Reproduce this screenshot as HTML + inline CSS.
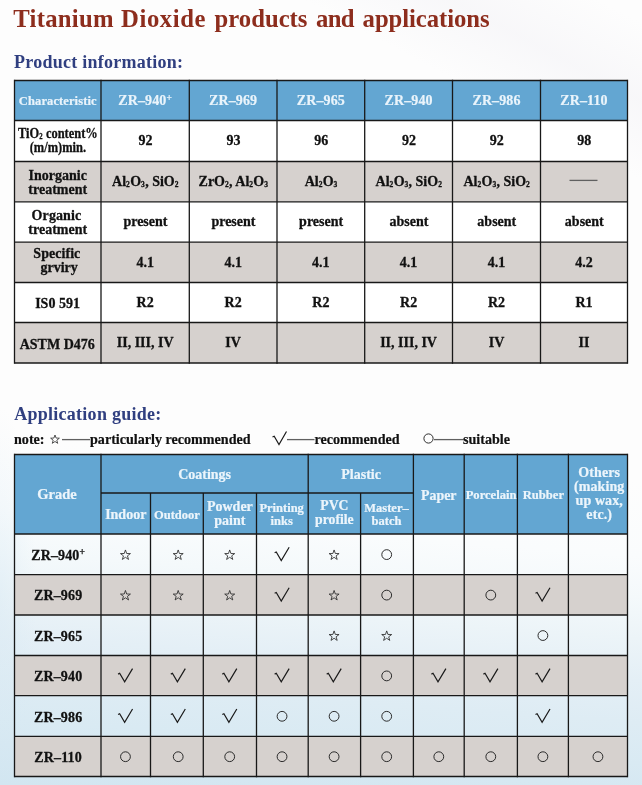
<!DOCTYPE html>
<html><head><meta charset="utf-8"><title>Titanium Dioxide products and applications</title>
<style>
html,body{margin:0;padding:0;}
body{width:642px;height:785px;position:relative;overflow:hidden;font-family:"Liberation Serif",serif;font-weight:bold;color:#111;
background:
 linear-gradient(28deg, rgba(240,239,244,0) 84%, rgba(240,239,244,0.4) 91%, rgba(240,239,244,0) 98%),
 radial-gradient(ellipse 36px 190px at 0% 76%, rgba(214,232,243,0.4) 0%, rgba(214,232,243,0) 100%),
 linear-gradient(184deg,#fdfdfd 0%,#fdfdfd 58%,#fafcfd 67%,#f4f9fb 72%,#ecf4f8 77%,#e4eff6 82%,#deecf4 87%,#d9eaf3 92%,#d6e8f2 95%,#d2e6f1 100%);}
svg{position:absolute;left:0;top:0;}
.t{position:absolute;white-space:nowrap;line-height:1;}
#txt{position:absolute;left:0;top:0;width:642px;height:785px;will-change:transform;}
.tt{top:7.4px;font-size:24.7px;color:#8d2d1d;}
#pi{left:14px;top:52.5px;font-size:18px;color:#303f80;letter-spacing:0.25px;}
#ag{left:14.2px;top:405px;font-size:18px;color:#303f80;letter-spacing:0.27px;}
.n{-webkit-text-stroke:0.2px currentColor;font-size:14.1px;color:#111;top:432.1px;}
.c{-webkit-text-stroke:0.28px currentColor;position:absolute;display:flex;align-items:center;justify-content:center;text-align:center;font-size:14px;line-height:14px;white-space:nowrap;}
.c sub{font-size:7.5px;vertical-align:baseline;position:relative;top:0.8px;line-height:0;letter-spacing:0.3px;}
.c sup{font-size:9.5px;vertical-align:baseline;position:relative;top:-4.5px;line-height:0;}
.h{color:#eaf4fb;font-size:14px;letter-spacing:0.1px;-webkit-text-stroke:0.2px currentColor;}
.l{font-size:14px;line-height:13.8px;}
.h2{-webkit-text-stroke:0.22px currentColor;color:#ecf5fb;font-size:14px;line-height:13.8px;}
.g{font-size:14px;letter-spacing:0.15px;}
</style></head><body>
<svg width="642" height="785" viewBox="0 0 642 785">
<rect x="14.5" y="80.5" width="613.00" height="40.00" fill="#63a6d2"/>
<rect x="14.5" y="120.5" width="613.00" height="41.00" fill="#ffffff"/>
<rect x="14.5" y="161.5" width="613.00" height="40.30" fill="#d6d1ce"/>
<rect x="14.5" y="201.8" width="613.00" height="40.40" fill="#ffffff"/>
<rect x="14.5" y="242.2" width="613.00" height="40.30" fill="#d6d1ce"/>
<rect x="14.5" y="282.5" width="613.00" height="40.00" fill="#ffffff"/>
<rect x="14.5" y="322.5" width="613.00" height="40.50" fill="#d6d1ce"/>
<line x1="14.5" y1="79.85" x2="14.5" y2="363.65" stroke="#181818" stroke-width="1.3"/>
<line x1="101" y1="79.85" x2="101" y2="363.65" stroke="#181818" stroke-width="1.3"/>
<line x1="189.3" y1="79.85" x2="189.3" y2="363.65" stroke="#181818" stroke-width="1.3"/>
<line x1="277" y1="79.85" x2="277" y2="363.65" stroke="#181818" stroke-width="1.3"/>
<line x1="364.7" y1="79.85" x2="364.7" y2="363.65" stroke="#181818" stroke-width="1.3"/>
<line x1="452.5" y1="79.85" x2="452.5" y2="363.65" stroke="#181818" stroke-width="1.3"/>
<line x1="540.5" y1="79.85" x2="540.5" y2="363.65" stroke="#181818" stroke-width="1.3"/>
<line x1="627.5" y1="79.85" x2="627.5" y2="363.65" stroke="#181818" stroke-width="1.3"/>
<line x1="14.5" y1="80.5" x2="627.5" y2="80.5" stroke="#181818" stroke-width="1.3"/>
<line x1="14.5" y1="120.5" x2="627.5" y2="120.5" stroke="#181818" stroke-width="1.3"/>
<line x1="14.5" y1="161.5" x2="627.5" y2="161.5" stroke="#181818" stroke-width="1.3"/>
<line x1="14.5" y1="201.8" x2="627.5" y2="201.8" stroke="#181818" stroke-width="1.3"/>
<line x1="14.5" y1="242.2" x2="627.5" y2="242.2" stroke="#181818" stroke-width="1.3"/>
<line x1="14.5" y1="282.5" x2="627.5" y2="282.5" stroke="#181818" stroke-width="1.3"/>
<line x1="14.5" y1="322.5" x2="627.5" y2="322.5" stroke="#181818" stroke-width="1.3"/>
<line x1="14.5" y1="363" x2="627.5" y2="363" stroke="#181818" stroke-width="1.3"/>
<rect x="14.5" y="454.5" width="613.00" height="79.50" fill="#63a6d2"/>
<rect x="14.5" y="574.6" width="613.00" height="40.40" fill="#d6d1ce"/>
<rect x="14.5" y="655.5" width="613.00" height="40.20" fill="#d6d1ce"/>
<rect x="14.5" y="736.3" width="613.00" height="40.20" fill="#d6d1ce"/>
<line x1="14.5" y1="453.85" x2="14.5" y2="777.15" stroke="#181818" stroke-width="1.3"/>
<line x1="101" y1="453.85" x2="101" y2="777.15" stroke="#181818" stroke-width="1.3"/>
<line x1="150.5" y1="493" x2="150.5" y2="777.15" stroke="#181818" stroke-width="1.3"/>
<line x1="203.3" y1="493" x2="203.3" y2="777.15" stroke="#181818" stroke-width="1.3"/>
<line x1="256.5" y1="493" x2="256.5" y2="777.15" stroke="#181818" stroke-width="1.3"/>
<line x1="308.2" y1="453.85" x2="308.2" y2="777.15" stroke="#181818" stroke-width="1.3"/>
<line x1="360.6" y1="493" x2="360.6" y2="777.15" stroke="#181818" stroke-width="1.3"/>
<line x1="413.4" y1="453.85" x2="413.4" y2="777.15" stroke="#181818" stroke-width="1.3"/>
<line x1="464.2" y1="453.85" x2="464.2" y2="777.15" stroke="#181818" stroke-width="1.3"/>
<line x1="517.4" y1="453.85" x2="517.4" y2="777.15" stroke="#181818" stroke-width="1.3"/>
<line x1="568.4" y1="453.85" x2="568.4" y2="777.15" stroke="#181818" stroke-width="1.3"/>
<line x1="627.5" y1="453.85" x2="627.5" y2="777.15" stroke="#181818" stroke-width="1.3"/>
<line x1="14.5" y1="454.5" x2="627.5" y2="454.5" stroke="#181818" stroke-width="1.3"/>
<line x1="14.5" y1="534" x2="627.5" y2="534" stroke="#181818" stroke-width="1.3"/>
<line x1="14.5" y1="574.6" x2="627.5" y2="574.6" stroke="#181818" stroke-width="1.3"/>
<line x1="14.5" y1="615" x2="627.5" y2="615" stroke="#181818" stroke-width="1.3"/>
<line x1="14.5" y1="655.5" x2="627.5" y2="655.5" stroke="#181818" stroke-width="1.3"/>
<line x1="14.5" y1="695.7" x2="627.5" y2="695.7" stroke="#181818" stroke-width="1.3"/>
<line x1="14.5" y1="736.3" x2="627.5" y2="736.3" stroke="#181818" stroke-width="1.3"/>
<line x1="14.5" y1="776.5" x2="627.5" y2="776.5" stroke="#181818" stroke-width="1.3"/>
<line x1="101" y1="493" x2="413.4" y2="493" stroke="#181818" stroke-width="1.3"/>
<polygon points="125.45,549.95 126.68,553.50 130.44,553.58 127.45,555.85 128.54,559.45 125.45,557.30 122.36,559.45 123.45,555.85 120.46,553.58 124.22,553.50" fill="none" stroke="#2a2a2a" stroke-width="0.85" stroke-linejoin="miter"/>
<polygon points="178.20,549.95 179.43,553.50 183.19,553.58 180.20,555.85 181.29,559.45 178.20,557.30 175.11,559.45 176.20,555.85 173.21,553.58 176.97,553.50" fill="none" stroke="#2a2a2a" stroke-width="0.85" stroke-linejoin="miter"/>
<polygon points="229.70,549.95 230.93,553.50 234.69,553.58 231.70,555.85 232.79,559.45 229.70,557.30 226.61,559.45 227.70,555.85 224.71,553.58 228.47,553.50" fill="none" stroke="#2a2a2a" stroke-width="0.85" stroke-linejoin="miter"/>
<polyline points="274.65,552.80 276.25,552.00 281.25,560.60 289.15,547.30" fill="none" stroke="#1a1a1a" stroke-width="1.2" stroke-linejoin="miter"/>
<polygon points="334.10,549.95 335.33,553.50 339.09,553.58 336.10,555.85 337.19,559.45 334.10,557.30 331.01,559.45 332.10,555.85 329.11,553.58 332.87,553.50" fill="none" stroke="#2a2a2a" stroke-width="0.85" stroke-linejoin="miter"/>
<circle cx="386.70" cy="554.60" r="4.9" fill="none" stroke="#222" stroke-width="0.95"/>
<polygon points="125.45,590.45 126.68,594.00 130.44,594.08 127.45,596.35 128.54,599.95 125.45,597.80 122.36,599.95 123.45,596.35 120.46,594.08 124.22,594.00" fill="none" stroke="#2a2a2a" stroke-width="0.85" stroke-linejoin="miter"/>
<polygon points="178.20,590.45 179.43,594.00 183.19,594.08 180.20,596.35 181.29,599.95 178.20,597.80 175.11,599.95 176.20,596.35 173.21,594.08 176.97,594.00" fill="none" stroke="#2a2a2a" stroke-width="0.85" stroke-linejoin="miter"/>
<polygon points="229.70,590.45 230.93,594.00 234.69,594.08 231.70,596.35 232.79,599.95 229.70,597.80 226.61,599.95 227.70,596.35 224.71,594.08 228.47,594.00" fill="none" stroke="#2a2a2a" stroke-width="0.85" stroke-linejoin="miter"/>
<polyline points="274.65,593.30 276.25,592.50 281.25,601.10 289.15,587.80" fill="none" stroke="#1a1a1a" stroke-width="1.2" stroke-linejoin="miter"/>
<polygon points="334.10,590.45 335.33,594.00 339.09,594.08 336.10,596.35 337.19,599.95 334.10,597.80 331.01,599.95 332.10,596.35 329.11,594.08 332.87,594.00" fill="none" stroke="#2a2a2a" stroke-width="0.85" stroke-linejoin="miter"/>
<circle cx="386.70" cy="595.10" r="4.9" fill="none" stroke="#222" stroke-width="0.95"/>
<circle cx="490.80" cy="595.10" r="4.9" fill="none" stroke="#222" stroke-width="0.95"/>
<polyline points="535.50,593.30 537.10,592.50 542.10,601.10 550.00,587.80" fill="none" stroke="#1a1a1a" stroke-width="1.2" stroke-linejoin="miter"/>
<polygon points="334.10,630.90 335.33,634.45 339.09,634.53 336.10,636.80 337.19,640.40 334.10,638.25 331.01,640.40 332.10,636.80 329.11,634.53 332.87,634.45" fill="none" stroke="#2a2a2a" stroke-width="0.85" stroke-linejoin="miter"/>
<polygon points="386.70,630.90 387.93,634.45 391.69,634.53 388.70,636.80 389.79,640.40 386.70,638.25 383.61,640.40 384.70,636.80 381.71,634.53 385.47,634.45" fill="none" stroke="#2a2a2a" stroke-width="0.85" stroke-linejoin="miter"/>
<circle cx="542.90" cy="635.55" r="4.9" fill="none" stroke="#222" stroke-width="0.95"/>
<polyline points="118.05,674.10 119.65,673.30 124.65,681.90 132.55,668.60" fill="none" stroke="#1a1a1a" stroke-width="1.2" stroke-linejoin="miter"/>
<polyline points="170.80,674.10 172.40,673.30 177.40,681.90 185.30,668.60" fill="none" stroke="#1a1a1a" stroke-width="1.2" stroke-linejoin="miter"/>
<polyline points="222.30,674.10 223.90,673.30 228.90,681.90 236.80,668.60" fill="none" stroke="#1a1a1a" stroke-width="1.2" stroke-linejoin="miter"/>
<polyline points="274.65,674.10 276.25,673.30 281.25,681.90 289.15,668.60" fill="none" stroke="#1a1a1a" stroke-width="1.2" stroke-linejoin="miter"/>
<polyline points="326.70,674.10 328.30,673.30 333.30,681.90 341.20,668.60" fill="none" stroke="#1a1a1a" stroke-width="1.2" stroke-linejoin="miter"/>
<circle cx="386.70" cy="675.90" r="4.9" fill="none" stroke="#222" stroke-width="0.95"/>
<polyline points="431.40,674.10 433.00,673.30 438.00,681.90 445.90,668.60" fill="none" stroke="#1a1a1a" stroke-width="1.2" stroke-linejoin="miter"/>
<polyline points="483.40,674.10 485.00,673.30 490.00,681.90 497.90,668.60" fill="none" stroke="#1a1a1a" stroke-width="1.2" stroke-linejoin="miter"/>
<polyline points="535.50,674.10 537.10,673.30 542.10,681.90 550.00,668.60" fill="none" stroke="#1a1a1a" stroke-width="1.2" stroke-linejoin="miter"/>
<polyline points="118.05,714.50 119.65,713.70 124.65,722.30 132.55,709.00" fill="none" stroke="#1a1a1a" stroke-width="1.2" stroke-linejoin="miter"/>
<polyline points="170.80,714.50 172.40,713.70 177.40,722.30 185.30,709.00" fill="none" stroke="#1a1a1a" stroke-width="1.2" stroke-linejoin="miter"/>
<polyline points="222.30,714.50 223.90,713.70 228.90,722.30 236.80,709.00" fill="none" stroke="#1a1a1a" stroke-width="1.2" stroke-linejoin="miter"/>
<circle cx="282.05" cy="716.30" r="4.9" fill="none" stroke="#222" stroke-width="0.95"/>
<circle cx="334.10" cy="716.30" r="4.9" fill="none" stroke="#222" stroke-width="0.95"/>
<circle cx="386.70" cy="716.30" r="4.9" fill="none" stroke="#222" stroke-width="0.95"/>
<polyline points="535.50,714.50 537.10,713.70 542.10,722.30 550.00,709.00" fill="none" stroke="#1a1a1a" stroke-width="1.2" stroke-linejoin="miter"/>
<circle cx="125.45" cy="756.70" r="4.9" fill="none" stroke="#222" stroke-width="0.95"/>
<circle cx="178.20" cy="756.70" r="4.9" fill="none" stroke="#222" stroke-width="0.95"/>
<circle cx="229.70" cy="756.70" r="4.9" fill="none" stroke="#222" stroke-width="0.95"/>
<circle cx="282.05" cy="756.70" r="4.9" fill="none" stroke="#222" stroke-width="0.95"/>
<circle cx="334.10" cy="756.70" r="4.9" fill="none" stroke="#222" stroke-width="0.95"/>
<circle cx="386.70" cy="756.70" r="4.9" fill="none" stroke="#222" stroke-width="0.95"/>
<circle cx="438.80" cy="756.70" r="4.9" fill="none" stroke="#222" stroke-width="0.95"/>
<circle cx="490.80" cy="756.70" r="4.9" fill="none" stroke="#222" stroke-width="0.95"/>
<circle cx="542.90" cy="756.70" r="4.9" fill="none" stroke="#222" stroke-width="0.95"/>
<circle cx="597.95" cy="756.70" r="4.9" fill="none" stroke="#222" stroke-width="0.95"/>
<polygon points="55.00,435.00 56.12,438.06 59.37,438.18 56.81,440.19 57.70,443.32 55.00,441.50 52.30,443.32 53.19,440.19 50.63,438.18 53.88,438.06" fill="none" stroke="#2a2a2a" stroke-width="0.8" stroke-linejoin="miter"/>
<line x1="62" y1="439.6" x2="90" y2="439.6" stroke="#606060" stroke-width="1.3"/>
<polyline points="272.5,437 274.2,436.2 279,444.5 286.5,431.5" fill="none" stroke="#1a1a1a" stroke-width="1.2"/>
<line x1="287" y1="439.6" x2="314.5" y2="439.6" stroke="#606060" stroke-width="1.3"/>
<circle cx="428.50" cy="438.50" r="4.6" fill="none" stroke="#222" stroke-width="0.95"/>
<line x1="434" y1="439.6" x2="463.5" y2="439.6" stroke="#606060" stroke-width="1.3"/>
<line x1="569.5" y1="180.4" x2="597.5" y2="180.4" stroke="#606060" stroke-width="1.3"/>
</svg>
<div id="txt">
<div class="t tt" style="left:13.2px;letter-spacing:0.3px">Titanium</div>
<div class="t tt" style="left:121px;letter-spacing:0.6px">Dioxide</div>
<div class="t tt" style="left:214.6px;letter-spacing:0px">products</div>
<div class="t tt" style="left:316px;letter-spacing:-0.7px">and</div>
<div class="t tt" style="left:362.6px;letter-spacing:-0.05px">applications</div>
<div class="t" id="pi">Product information:</div>
<div class="t" id="ag">Application guide:</div>
<div class="t n" style="left:14px">note:</div>
<div class="t n" style="left:90px">particularly recommended</div>
<div class="t n" style="left:314.5px">recommended</div>
<div class="t n" style="left:463px">suitable</div>
<div class="c h" style="left:14.5px;top:81.0px;width:86.5px;height:40.0px;font-size:12.5px;"><span>Characteristic</span></div>
<div class="c h" style="left:101.0px;top:81.1px;width:88.3px;height:40.0px;"><span>ZR&#8211;940<sup>+</sup></span></div>
<div class="c h" style="left:189.3px;top:81.1px;width:87.7px;height:40.0px;"><span>ZR&#8211;969</span></div>
<div class="c h" style="left:277.0px;top:81.1px;width:87.7px;height:40.0px;"><span>ZR&#8211;965</span></div>
<div class="c h" style="left:364.7px;top:81.1px;width:87.8px;height:40.0px;"><span>ZR&#8211;940</span></div>
<div class="c h" style="left:452.5px;top:81.1px;width:88.0px;height:40.0px;"><span>ZR&#8211;986</span></div>
<div class="c h" style="left:540.5px;top:81.1px;width:87.0px;height:40.0px;"><span>ZR&#8211;110</span></div>
<div class="c l" style="left:14.5px;top:120.5px;width:86.5px;height:41.0px;font-size:14px;line-height:13.9px;"><span style="display:inline-block;transform:scaleX(0.89)">TiO<sub>2</sub> content%<br>(m/m)min.</span></div>
<div class="c " style="left:101.3px;top:120.9px;width:88.3px;height:41.0px;"><span>92</span></div>
<div class="c " style="left:189.6px;top:120.9px;width:87.7px;height:41.0px;"><span>93</span></div>
<div class="c " style="left:277.3px;top:120.9px;width:87.7px;height:41.0px;"><span>96</span></div>
<div class="c " style="left:365.0px;top:120.9px;width:87.8px;height:41.0px;"><span>92</span></div>
<div class="c " style="left:452.8px;top:120.9px;width:88.0px;height:41.0px;"><span>92</span></div>
<div class="c " style="left:540.8px;top:120.9px;width:87.0px;height:41.0px;"><span>98</span></div>
<div class="c l" style="left:14.5px;top:162.5px;width:86.5px;height:40.3px;"><span>Inorganic<br>treatment</span></div>
<div class="c " style="left:101.3px;top:161.9px;width:88.3px;height:40.3px;"><span>Al<sub>2</sub>O<sub>3</sub>, SiO<sub>2</sub></span></div>
<div class="c " style="left:189.6px;top:161.9px;width:87.7px;height:40.3px;"><span>ZrO<sub>2</sub>, Al<sub>2</sub>O<sub>3</sub></span></div>
<div class="c " style="left:277.3px;top:161.9px;width:87.7px;height:40.3px;"><span>Al<sub>2</sub>O<sub>3</sub></span></div>
<div class="c " style="left:365.0px;top:161.9px;width:87.8px;height:40.3px;"><span>Al<sub>2</sub>O<sub>3</sub>, SiO<sub>2</sub></span></div>
<div class="c " style="left:452.8px;top:161.9px;width:88.0px;height:40.3px;"><span>Al<sub>2</sub>O<sub>3</sub>, SiO<sub>2</sub></span></div>
<div class="c l" style="left:14.5px;top:202.8px;width:86.5px;height:40.4px;"><span><span style='position:relative;left:-1.3px;letter-spacing:0.1px'>Organic</span><br>treatment</span></div>
<div class="c " style="left:101.3px;top:202.2px;width:88.3px;height:40.4px;"><span>present</span></div>
<div class="c " style="left:189.6px;top:202.2px;width:87.7px;height:40.4px;"><span>present</span></div>
<div class="c " style="left:277.3px;top:202.2px;width:87.7px;height:40.4px;"><span>present</span></div>
<div class="c " style="left:365.0px;top:202.2px;width:87.8px;height:40.4px;"><span>absent</span></div>
<div class="c " style="left:452.8px;top:202.2px;width:88.0px;height:40.4px;"><span>absent</span></div>
<div class="c " style="left:540.8px;top:202.2px;width:87.0px;height:40.4px;"><span>absent</span></div>
<div class="c l" style="left:14.5px;top:240.5px;width:86.5px;height:40.3px;line-height:13.2px;"><span><span style='position:relative;left:-0.9px;letter-spacing:0.05px'>Specific</span><br><span style='position:relative;left:1.4px'>grviry</span></span></div>
<div class="c " style="left:101.0px;top:242.8px;width:88.3px;height:40.3px;"><span>4.1</span></div>
<div class="c " style="left:189.3px;top:242.8px;width:87.7px;height:40.3px;"><span>4.1</span></div>
<div class="c " style="left:277.0px;top:242.8px;width:87.7px;height:40.3px;"><span>4.1</span></div>
<div class="c " style="left:364.7px;top:242.8px;width:87.8px;height:40.3px;"><span>4.1</span></div>
<div class="c " style="left:452.5px;top:242.8px;width:88.0px;height:40.3px;"><span>4.1</span></div>
<div class="c " style="left:540.5px;top:242.8px;width:87.0px;height:40.3px;"><span>4.2</span></div>
<div class="c l" style="left:14.3px;top:284.4px;width:86.5px;height:40.0px;"><span>IS0 591</span></div>
<div class="c " style="left:101.0px;top:283.1px;width:88.3px;height:40.0px;"><span>R2</span></div>
<div class="c " style="left:189.3px;top:283.1px;width:87.7px;height:40.0px;"><span>R2</span></div>
<div class="c " style="left:277.0px;top:283.1px;width:87.7px;height:40.0px;"><span>R2</span></div>
<div class="c " style="left:364.7px;top:283.1px;width:87.8px;height:40.0px;"><span>R2</span></div>
<div class="c " style="left:452.5px;top:283.1px;width:88.0px;height:40.0px;"><span>R2</span></div>
<div class="c " style="left:540.5px;top:283.1px;width:87.0px;height:40.0px;"><span>R1</span></div>
<div class="c l" style="left:14.0px;top:324.4px;width:86.5px;height:40.5px;"><span>ASTM D476</span></div>
<div class="c " style="left:101.0px;top:323.1px;width:88.3px;height:40.5px;"><span>II, III, IV</span></div>
<div class="c " style="left:189.3px;top:323.1px;width:87.7px;height:40.5px;"><span>IV</span></div>
<div class="c " style="left:364.7px;top:323.1px;width:87.8px;height:40.5px;"><span>II, III, IV</span></div>
<div class="c " style="left:452.5px;top:323.1px;width:88.0px;height:40.5px;"><span>IV</span></div>
<div class="c " style="left:540.5px;top:323.1px;width:87.0px;height:40.5px;"><span>II</span></div>
<div class="c h2" style="left:13.7px;top:455.1px;width:86.5px;height:79.5px;font-size:14.5px;"><span>Grade</span></div>
<div class="c h2" style="left:101.0px;top:455.5px;width:207.2px;height:38.5px;"><span>Coatings</span></div>
<div class="c h2" style="left:308.5px;top:455.4px;width:105.2px;height:38.5px;"><span>Plastic</span></div>
<div class="c h2" style="left:101.0px;top:494.2px;width:49.5px;height:41.0px;"><span>Indoor</span></div>
<div class="c h2" style="left:150.5px;top:495.0px;width:52.8px;height:41.0px;font-size:12.5px;"><span>Outdoor</span></div>
<div class="c h2" style="left:203.3px;top:493.4px;width:53.2px;height:41.0px;"><span>Powder<br>paint</span></div>
<div class="c h2" style="left:255.8px;top:494.9px;width:51.7px;height:41.0px;font-size:12.5px;line-height:13.4px;"><span>Printing<br>inks</span></div>
<div class="c h2" style="left:308.2px;top:492.5px;width:52.4px;height:41.0px;font-size:13.7px;"><span>PVC<br>profile</span></div>
<div class="c h2" style="left:360.1px;top:494.9px;width:52.8px;height:41.0px;font-size:12.5px;line-height:13.4px;"><span>Master&#8211;<br>batch</span></div>
<div class="c h2" style="left:413.4px;top:455.7px;width:50.8px;height:79.5px;font-size:13.9px;"><span>Paper</span></div>
<div class="c h2" style="left:464.5px;top:456.5px;width:53.2px;height:79.5px;font-size:12.6px;"><span>Porcelain</span></div>
<div class="c h2" style="left:517.9px;top:456.5px;width:51.0px;height:79.5px;font-size:12.6px;"><span>Rubber</span></div>
<div class="c h2" style="left:569.7px;top:454.3px;width:59.1px;height:79.5px;letter-spacing:0.1px;line-height:14.1px;"><span>Others<br>(making<br>up wax,<br>etc.)</span></div>
<div class="c g" style="left:14.9px;top:535.7px;width:86.5px;height:40.6px;"><span>ZR&#8211;940<sup>+</sup></span></div>
<div class="c g" style="left:14.9px;top:576.3px;width:86.5px;height:40.4px;"><span>ZR&#8211;969</span></div>
<div class="c g" style="left:14.9px;top:616.7px;width:86.5px;height:40.5px;"><span>ZR&#8211;965</span></div>
<div class="c g" style="left:14.9px;top:657.2px;width:86.5px;height:40.2px;"><span>ZR&#8211;940</span></div>
<div class="c g" style="left:14.9px;top:697.4px;width:86.5px;height:40.6px;"><span>ZR&#8211;986</span></div>
<div class="c g" style="left:14.9px;top:738.0px;width:86.5px;height:40.2px;"><span>ZR&#8211;110</span></div>
</div>
</body></html>
